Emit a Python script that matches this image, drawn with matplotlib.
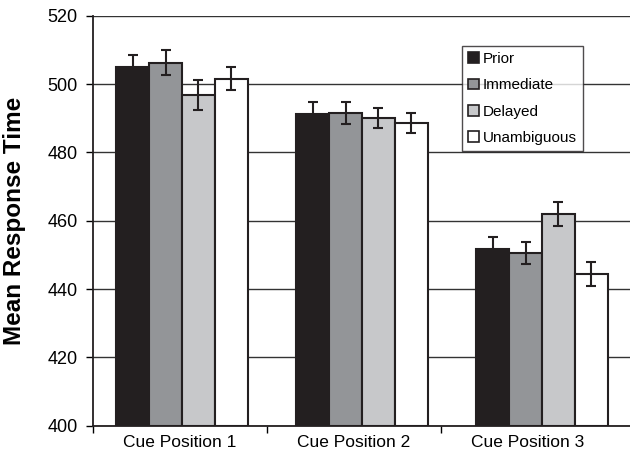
import matplotlib
matplotlib.use("Agg")
import matplotlib.pyplot as plt
import numpy as np
from matplotlib.patches import Patch

plt.rcParams['font.family'] = ['Liberation Sans', 'DejaVu Sans']

categories = ["Cue Position 1", "Cue Position 2", "Cue Position 3"]
series = ["Prior", "Immediate", "Delayed", "Unambiguous"]
prior = [504.9, 491.3, 451.6]
immediate = [506.3, 491.5, 450.5]
delayed = [496.8, 490.0, 461.9]
unambiguous = [501.6, 488.6, 444.3]
prior_err = [3.6, 3.4, 3.6]
immediate_err = [3.7, 3.3, 3.2]
delayed_err = [4.4, 2.9, 3.5]
unambiguous_err = [3.3, 2.9, 3.5]
yticks = [400, 420, 440, 460, 480, 500, 520]

values = [prior, immediate, delayed, unambiguous]
errors = [prior_err, immediate_err, delayed_err, unambiguous_err]
colors = ["#231f20", "#939598", "#c7c8ca", "#ffffff"]

fig = plt.figure(figsize=(6.3, 4.54), dpi=100)
ax = fig.add_axes([93/630, 1 - 425.7/454, 1 - 93/630, (425.7 - 15.7)/454])

x = np.arange(len(categories))
w = 0.183
for i, (vals, errs, c) in enumerate(zip(values, errors, colors)):
    pos = x + (i - 1.5) * w
    ax.bar(pos, np.array(vals) - 400, bottom=400, width=w, color=c,
           edgecolor="#231f20", linewidth=1.5, zorder=3)
    ax.errorbar(pos, vals, yerr=errs, fmt="none", ecolor="#231f20",
                elinewidth=1.5, capsize=3.8, capthick=1.5, zorder=4)

left = -89 / 180
ax.set_ylim(400, 520)
ax.set_xlim(left, 448 / 180)
ax.set_yticks(yticks)
ax.yaxis.grid(True, color="#333333", linewidth=1.0, zorder=0)
ax.set_axisbelow(True)

# category boundaries / label positions as drawn in the original figure
step = 174 / 180
bounds = left + step * np.arange(len(categories) + 1)
ax.set_xticks((bounds[:-1] + bounds[1:]) / 2)
ax.set_xticklabels(categories, fontsize=12.5)
ax.set_xticks(bounds[:-1], minor=True)
ax.tick_params(axis="x", which="major", length=0, pad=7)
ax.tick_params(axis="x", which="minor", length=5, width=1, direction="out")
ax.tick_params(axis="y", length=5, width=1, direction="out", labelsize=13, pad=6)

for s in ["top", "right"]:
    ax.spines[s].set_visible(False)
for s in ["left", "bottom"]:
    ax.spines[s].set_linewidth(1.3)
    ax.spines[s].set_color("#231f20")

ax.set_ylabel("Mean Response Time", fontsize=17.5, fontweight="bold")
ax.yaxis.set_label_coords((26 - 93) / 537, 0.5)

handles = [Patch(facecolor=c, edgecolor="#231f20", linewidth=1.2) for c in colors]
leg = ax.legend(handles, series, loc="upper left",
                bbox_to_anchor=((462 - 93) / 537, (425.7 - 46) / 410),
                fontsize=11, frameon=True, fancybox=False, handlelength=0.7,
                handleheight=0.7, handletextpad=0.25, labelspacing=0.8,
                borderpad=0.4, borderaxespad=0)
leg.get_frame().set_edgecolor("#231f20")
leg.get_frame().set_linewidth(1.0)
leg.set_zorder(5)

fig.savefig("out.png", dpi=100)
